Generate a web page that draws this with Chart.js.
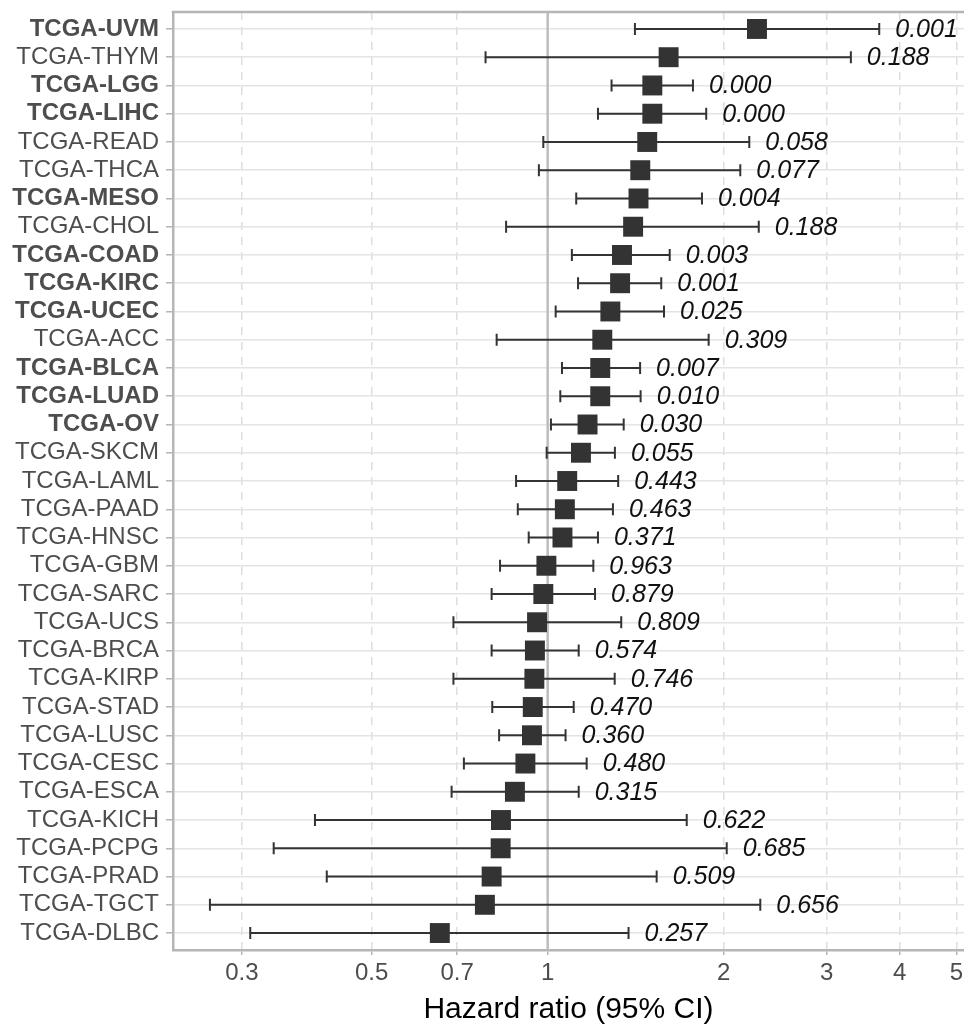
<!DOCTYPE html>
<html>
<head>
<meta charset="utf-8">
<script src="https://cdn.jsdelivr.net/npm/chart.js@4"></script>
<style>
  html, body { margin: 0; padding: 0; background: #ffffff; }
  #wrap { width: 964px; height: 1026px; position: relative; }
</style>
</head>
<body>
<div id="wrap"><canvas id="c" width="964" height="1026"></canvas></div>
<script>
const categories = ['TCGA-UVM','TCGA-THYM','TCGA-LGG','TCGA-LIHC','TCGA-READ','TCGA-THCA','TCGA-MESO','TCGA-CHOL','TCGA-COAD','TCGA-KIRC','TCGA-UCEC','TCGA-ACC','TCGA-BLCA','TCGA-LUAD','TCGA-OV','TCGA-SKCM','TCGA-LAML','TCGA-PAAD','TCGA-HNSC','TCGA-GBM','TCGA-SARC','TCGA-UCS','TCGA-BRCA','TCGA-KIRP','TCGA-STAD','TCGA-LUSC','TCGA-CESC','TCGA-ESCA','TCGA-KICH','TCGA-PCPG','TCGA-PRAD','TCGA-TGCT','TCGA-DLBC'];
const hazardRatio = [2.28,1.61,1.51,1.51,1.48,1.44,1.43,1.40,1.34,1.33,1.28,1.24,1.23,1.23,1.17,1.14,1.08,1.07,1.06,0.995,0.983,0.959,0.951,0.949,0.943,0.940,0.916,0.879,0.832,0.831,0.802,0.781,0.654];
const lowerCI = [1.41,0.783,1.286,1.219,0.983,0.966,1.119,0.849,1.100,1.127,1.032,0.818,1.058,1.051,1.013,0.996,0.883,0.889,0.928,0.829,0.802,0.690,0.802,0.690,0.804,0.826,0.719,0.685,0.400,0.340,0.419,0.2645,0.310];
const upperCI = [3.69,3.30,1.772,1.867,2.212,2.135,1.836,2.296,1.617,1.564,1.581,1.885,1.439,1.442,1.349,1.303,1.320,1.293,1.219,1.197,1.205,1.336,1.130,1.302,1.108,1.073,1.166,1.130,1.729,2.024,1.536,2.31,1.375];
const pValues = ['0.001','0.188','0.000','0.000','0.058','0.077','0.004','0.188','0.003','0.001','0.025','0.309','0.007','0.010','0.030','0.055','0.443','0.463','0.371','0.963','0.879','0.809','0.574','0.746','0.470','0.360','0.480','0.315','0.622','0.685','0.509','0.656','0.257'];
const xTicks = [0.3, 0.5, 0.7, 1, 2, 3, 4, 5];
const xTitle = 'Hazard ratio (95% CI)';

const FONT = "'Liberation Sans', Arial, Helvetica, sans-serif";
const INK = '#333333';
const FRAME = '#b5b5b5';

const forestPlugin = {
  id: 'forest',
  beforeDatasetsDraw(chart) {
    const {ctx, chartArea, scales: {x, y}} = chart;
    ctx.save();
    const x1 = x.getPixelForValue(1);
    ctx.strokeStyle = '#bdbdbd';
    ctx.lineWidth = 2.5;
    ctx.beginPath();
    ctx.moveTo(x1, chartArea.top);
    ctx.lineTo(x1, chartArea.bottom);
    ctx.stroke();
    ctx.strokeStyle = INK;
    ctx.lineWidth = 2;
    for (let i = 0; i < categories.length; i++) {
      const yy = y.getPixelForValue(i);
      const xl = x.getPixelForValue(lowerCI[i]);
      const xu = x.getPixelForValue(upperCI[i]);
      ctx.beginPath();
      ctx.moveTo(xl, yy); ctx.lineTo(xu, yy);
      ctx.moveTo(xl, yy - 6); ctx.lineTo(xl, yy + 6);
      ctx.moveTo(xu, yy - 6); ctx.lineTo(xu, yy + 6);
      ctx.stroke();
    }
    ctx.restore();
  },
  afterDatasetsDraw(chart) {
    const {ctx, scales: {x, y}} = chart;
    ctx.save();
    ctx.fillStyle = '#111111';
    ctx.font = 'italic 25px ' + FONT;
    ctx.textAlign = 'left';
    ctx.textBaseline = 'middle';
    for (let i = 0; i < categories.length; i++) {
      const yy = y.getPixelForValue(i);
      const xu = x.getPixelForValue(upperCI[i]);
      ctx.fillText(pValues[i], xu + 16, yy + 1);
    }
    ctx.restore();
  },
  afterDraw(chart) {
    const {ctx, chartArea} = chart;
    ctx.save();
    ctx.strokeStyle = FRAME;
    ctx.lineWidth = 2.5;
    ctx.beginPath();
    ctx.moveTo(chartArea.left - 1.25, chartArea.top);
    ctx.lineTo(chartArea.right, chartArea.top);
    ctx.stroke();
    ctx.fillStyle = '#000000';
    ctx.font = '30px ' + FONT;
    ctx.textAlign = 'center';
    ctx.textBaseline = 'middle';
    ctx.fillText(xTitle, (chartArea.left + chartArea.right) / 2, 1010);
    ctx.restore();
  }
};

new Chart(document.getElementById('c'), {
  type: 'scatter',
  data: {
    datasets: [{
      data: hazardRatio.map((v, i) => ({x: v, y: i})),
      pointStyle: 'rect',
      pointRadius: 14.1,
      pointHoverRadius: 14.1,
      backgroundColor: INK,
      borderColor: INK,
      borderWidth: 0
    }]
  },
  options: {
    responsive: false,
    devicePixelRatio: 1,
    animation: false,
    events: [],
    layout: { autoPadding: false, padding: { top: 12, right: 0, bottom: 0, left: 0 } },
    plugins: { legend: { display: false }, tooltip: { enabled: false } },
    scales: {
      x: {
        type: 'logarithmic',
        position: 'bottom',
        bounds: 'data',
        min: 0.2287,
        max: 5.152,
        afterBuildTicks(axis) { axis.ticks = xTicks.map(v => ({value: v})); },
        afterFit(axis) { axis.height = 76; axis.paddingLeft = 0; axis.paddingRight = 0; axis.paddingTop = 0; axis.paddingBottom = 0; },
        ticks: {
          autoSkip: false,
          maxRotation: 0,
          color: '#4d4d4d',
          font: { family: FONT, size: 24 },
          padding: 4,
          callback: (v) => String(v)
        },
        grid: {
          color: (c) => (c.tick && c.tick.value === 1) ? 'rgba(0,0,0,0)' : '#dedede',
          lineWidth: 1.5,
          tickColor: FRAME,
          tickLength: 5,
          tickWidth: 1.5,
          tickBorderDash: []
        },
        border: { display: true, color: FRAME, width: 2.5, dash: [8, 7] }
      },
      y: {
        type: 'linear',
        position: 'left',
        reverse: true,
        bounds: 'data',
        min: -0.6,
        max: categories.length - 0.4,
        afterBuildTicks(axis) { axis.ticks = categories.map((_, i) => ({value: i})); },
        afterFit(axis) { axis.width = 173; axis.paddingTop = 0; axis.paddingBottom = 0; axis.paddingLeft = 0; axis.paddingRight = 0; },
        ticks: {
          autoSkip: false,
          color: '#4d4d4d',
          padding: 7,
          font: (c) => ({
            family: FONT,
            size: 24,
            weight: (c.tick && parseFloat(pValues[c.tick.value]) < 0.05) ? 'bold' : 'normal'
          }),
          callback: (v) => categories[v]
        },
        grid: {
          color: '#e4e4e4',
          lineWidth: 1.5,
          tickColor: FRAME,
          tickLength: 7,
          tickWidth: 1.5
        },
        border: { display: true, color: FRAME, width: 2.5 }
      }
    }
  },
  plugins: [forestPlugin]
});
</script>
</body>
</html>
